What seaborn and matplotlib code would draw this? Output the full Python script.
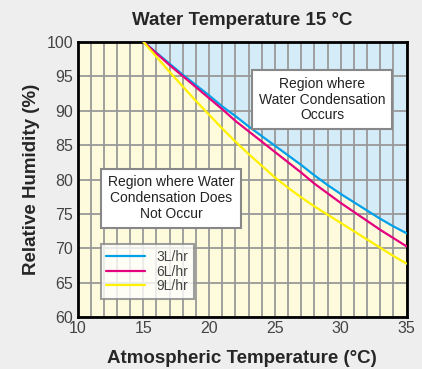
import numpy as np
import pandas as pd
import seaborn as sns
import matplotlib.pyplot as plt
from matplotlib.ticker import MultipleLocator

# values
temps = [15, 16, 17, 18, 19, 20, 21, 22, 23, 24, 25,
         26, 27, 28, 29, 30, 31, 32, 33, 34, 35]
rh_3l = [100, 98.4, 96.8, 95.2, 93.7, 92.2, 90.6, 89.2, 87.7, 86.3, 84.9,
         83.5, 82.1, 80.6, 79.2, 77.9, 76.7, 75.5, 74.3, 73.2, 72.2]
rh_6l = [100, 98.3, 96.6, 95.0, 93.4, 91.8, 90.2, 88.5, 87.0, 85.5, 84.0,
         82.5, 81.0, 79.4, 78.0, 76.6, 75.3, 74.0, 72.7, 71.5, 70.3]
rh_9l = [100, 97.8, 95.6, 93.5, 91.4, 89.4, 87.4, 85.5, 83.7, 82.0, 80.3,
         78.8, 77.4, 76.1, 74.9, 73.7, 72.5, 71.3, 70.1, 68.9, 67.8]
series = ["3L/hr", "6L/hr", "9L/hr"]
colors = ["#00a0e9", "#e4007f", "#fff100"]

df = pd.DataFrame({
    "temp": temps * 3,
    "rh": rh_3l + rh_6l + rh_9l,
    "flow": [s for s in series for _ in temps],
})

sns.set_style("white")
plt.rcParams["font.family"] = ["Liberation Sans", "DejaVu Sans"]

fig = plt.figure(figsize=(4.22, 3.69), dpi=100, facecolor="#eeeeee")
ax = fig.add_axes([0.1837, 0.1401, 0.7796, 0.7469])

# background regions
ax.set_facecolor("#fefbdc")
ax.fill_between(temps, rh_3l, 100, color="#d4ebf8", lw=0, zorder=0)

sns.lineplot(data=df, x="temp", y="rh", hue="flow", palette=colors,
             linewidth=1.6, ax=ax, zorder=3)

ax.set_xlim(10, 35)
ax.set_ylim(60, 100)
ax.xaxis.set_major_locator(MultipleLocator(5))
ax.xaxis.set_minor_locator(MultipleLocator(1))
ax.yaxis.set_major_locator(MultipleLocator(5))
ax.grid(which="both", axis="x", color="#999999", lw=1.3, zorder=1)
ax.grid(which="major", axis="y", color="#999999", lw=1.3, zorder=1)
ax.set_axisbelow(True)
ax.tick_params(which="both", length=0, labelsize=11.5, labelcolor="#444444", pad=3)
for s in ax.spines.values():
    s.set_color("black")
    s.set_linewidth(2)

ax.set_title("Water Temperature 15 °C", fontsize=13.5, fontweight="bold", pad=12)
ax.set_xlabel("Atmospheric Temperature (°C)", fontsize=13.5, fontweight="bold", labelpad=10)
ax.set_ylabel("Relative Humidity (%)", fontsize=13.5, fontweight="bold", labelpad=5)

box = dict(boxstyle="square,pad=0.5", fc="white", ec="#888888", lw=1.5)
ax.text(28.6, 91.6, "Region where\nWater Condensation\nOccurs", ha="center", va="center",
        fontsize=10, color="#222222", bbox=box, zorder=5, linespacing=1.15)
ax.text(17.1, 77.3, "Region where Water\nCondensation Does\nNot Occur", ha="center", va="center",
        fontsize=10, color="#222222", bbox=box, zorder=5, linespacing=1.15)

leg = ax.legend(loc="upper left", bbox_to_anchor=(0.05, 0.29), frameon=True,
                fancybox=False, edgecolor="#888888", fontsize=10, handlelength=2.8,
                labelspacing=0.05, borderpad=0.4)
leg.get_frame().set_linewidth(1.5)
leg.set_zorder(6)
for t in leg.get_texts():
    t.set_color("#444444")

fig.savefig("out.png", dpi=100, facecolor=fig.get_facecolor())
